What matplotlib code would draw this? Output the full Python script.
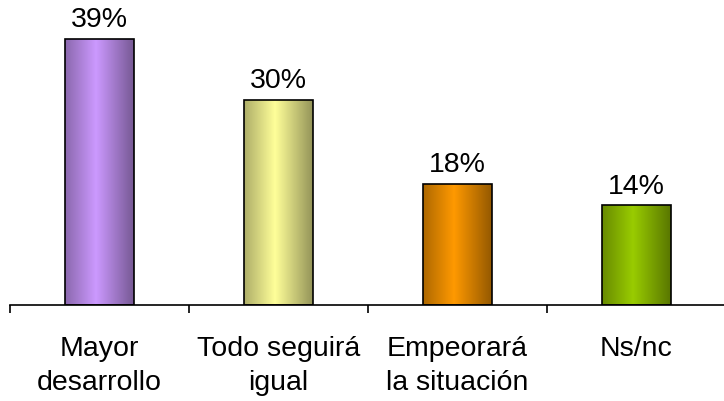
import numpy as np
import matplotlib.pyplot as plt
from matplotlib.colors import to_rgb

plt.rcParams['font.family'] = ['Liberation Sans', 'DejaVu Sans']

# data
categories = ["Mayor\ndesarrollo", "Todo seguirá\nigual", "Empeorará\nla situación", "Ns/nc"]
values = [39.0, 30.0, 17.8, 14.6]
value_labels = ["39%", "30%", "18%", "14%"]
bar_colors = ["#CC99FF", "#FFFF99", "#FF9900", "#99CC00"]

fig = plt.figure(figsize=(7.24, 4.01), dpi=100)
ax = fig.add_axes([10 / 724, 96 / 401, 716 / 724, 305 / 401])

x = np.arange(len(categories))
bars = ax.bar(x, values, width=0.38, facecolor="none", edgecolor="black",
              linewidth=1.2, zorder=3)

# shaded "cylinder" look: dark edges, bright just left of centre
t = np.linspace(0, 1, 200)
shade = np.where(t < 0.45, 0.68 + 0.32 * (t / 0.45), 1.0 - 0.42 * ((t - 0.45) / 0.55))
for bar, col in zip(bars, bar_colors):
    rgb = np.array(to_rgb(col))
    img = (shade[:, None] * rgb[None, :])[None, :, :]
    x0, w, h = bar.get_x(), bar.get_width(), bar.get_height()
    im = ax.imshow(img, extent=[x0, x0 + w, 0, h], aspect="auto", zorder=2,
                   interpolation="bilinear")
    im.set_clip_path(bar)

for xi, v, lab in zip(x, values, value_labels):
    ax.annotate(lab, (xi, v), xytext=(0, 8.5), textcoords="offset points",
                ha="center", va="baseline", fontsize=20.5)

for xi, cat in zip(x, categories):
    ax.annotate(cat, (xi, 0), xycoords=("data", "axes fraction"),
                xytext=(0, -22.5), textcoords="offset points",
                ha="center", va="top", fontsize=20.5, linespacing=1.38)

ax.set_xlim(-0.5, 3.5)
ax.set_ylim(0, 44.7)
ax.set_xticks(np.arange(-0.5, 4.0, 1.0))
ax.set_xticklabels([])
ax.tick_params(axis="x", direction="out", length=5.8, width=1.2)
ax.set_yticks([])
for s in ["left", "top", "right"]:
    ax.spines[s].set_visible(False)
ax.spines["bottom"].set_linewidth(1.2)

fig.savefig("out.png", dpi=100)
